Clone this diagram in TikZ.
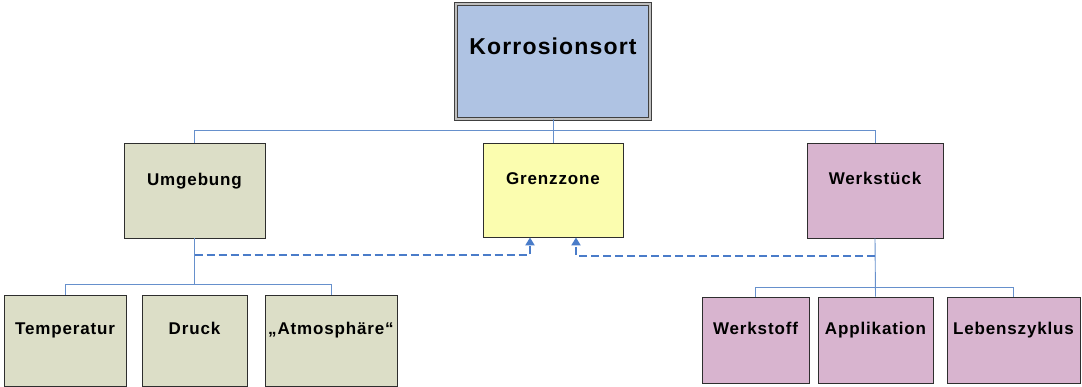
\documentclass[tikz,border=0pt]{standalone}
\usepackage{fontspec}
\setmainfont{Liberation Sans}
\newfontfamily\lblfont[LetterSpace=5]{Liberation Sans}
\usetikzlibrary{arrows.meta,calc,shadows}
\definecolor{kblue}{HTML}{AFC3E3}
\definecolor{ugreen}{HTML}{DCDEC7}
\definecolor{gyellow}{HTML}{FBFDAF}
\definecolor{wpink}{HTML}{D8B4CF}
\definecolor{connblue}{HTML}{6690CC}
\definecolor{dashblue}{HTML}{4A7CC9}
\definecolor{boxline}{HTML}{2E2E2E}
\begin{document}
\begin{tikzpicture}[x=1pt,y=-1pt,
  box/.style={draw=boxline, line width=0.9pt, inner sep=0pt,
    drop shadow={shadow xshift=1pt, shadow yshift=-1pt, fill=black!55, opacity=1}},
  lab/.style={font=\lblfont\bfseries\fontsize{17}{20}\selectfont, anchor=base, inner sep=0pt},
  biglab/.style={font=\lblfont\bfseries\fontsize{23}{26}\selectfont, anchor=base, inner sep=0pt},
  conn/.style={draw=connblue, line width=0.9pt},
  dashc/.style={draw=dashblue, line width=2pt, dash pattern=on 8pt off 4pt,
    -{Triangle[width=9pt,length=8pt]}}]
\useasboundingbox (0,0) rectangle (1082,387);

% boxes
\node[box, fill=kblue, draw=black!75, line width=1pt, double=black!25, double distance=1.3pt,
  minimum width=194pt, minimum height=115pt] (korr) at (553,61.5) {};
\node[box, fill=ugreen, minimum width=141pt, minimum height=95pt] (umg) at (194.5,190.5) {};
\node[box, fill=gyellow, minimum width=140pt, minimum height=94pt] (grenz) at (553,190) {};
\node[box, fill=wpink, minimum width=136pt, minimum height=95pt] (wst) at (875,190.5) {};
\node[box, fill=ugreen, minimum width=122pt, minimum height=91pt] (temp) at (65,340.5) {};
\node[box, fill=ugreen, minimum width=105pt, minimum height=91pt] (druck) at (194.5,340.5) {};
\node[box, fill=ugreen, minimum width=132pt, minimum height=91pt] (atm) at (331,340.5) {};
\node[box, fill=wpink, minimum width=107pt, minimum height=86pt] (wsto) at (755.5,340) {};
\node[box, fill=wpink, minimum width=115pt, minimum height=86pt] (appl) at (875.5,340) {};
\node[box, fill=wpink, minimum width=133pt, minimum height=86pt] (leben) at (1013.5,340) {};

% labels
\node[biglab] (korr-t) at ($(korr.center)+(0,-6.5)$) {Korrosionsort};
\node[lab] (umg-t) at ($(umg.center)+(0,-4.5)$) {Umgebung};
\node[lab] (grenz-t) at ($(grenz.center)+(0,-5)$) {Grenzzone};
\node[lab] (wst-t) at ($(wst.center)+(0,-5.5)$) {Werkstück};
\node[lab] (temp-t) at ($(temp.center)+(0,-5.5)$) {Temperatur};
\node[lab] (druck-t) at ($(druck.center)+(0,-5.5)$) {Druck};
\node[lab] (atm-t) at ($(atm.center)+(0,-5.5)$) {„Atmosphäre“};
\node[lab] (wsto-t) at ($(wsto.center)+(0,-5)$) {Werkstoff};
\node[lab] (appl-t) at ($(appl.center)+(0,-5)$) {Applikation};
\node[lab] (leben-t) at ($(leben.center)+(0,-5)$) {Lebenszyklus};

% tree connectors
\coordinate (bus1) at (korr.south |- 0,130);
\draw[conn] (korr.south) -- (bus1);
\draw[conn] (umg.north) -- (umg.north |- bus1) -- (wst.north |- bus1) -- (wst.north);
\draw[conn] (grenz.north) -- (grenz.north |- bus1);

\coordinate (bus2) at (umg.south |- 0,284);
\draw[conn] (umg.south) -- (bus2);
\draw[conn] (temp.north) -- (temp.north |- bus2) -- (atm.north |- bus2) -- (atm.north);

\coordinate (bus3) at (wst.south |- 0,287);
\draw[conn] (wst.south) -- (appl.north);
\draw[conn] (wsto.north) -- (wsto.north |- bus3) -- (leben.north |- bus3) -- (leben.north);

% dashed arrows
\coordinate (a1) at ($(grenz.south)+(-23,0)$);
\coordinate (a2) at ($(grenz.south)+(23,0)$);
\coordinate (d1) at (umg.south |- 0,255);
\coordinate (d2) at (wst.south |- 0,256);
\draw[dashc] (d1) -| (a1);
\draw[dashc] (d2) -| (a2);
\end{tikzpicture}
\end{document}
